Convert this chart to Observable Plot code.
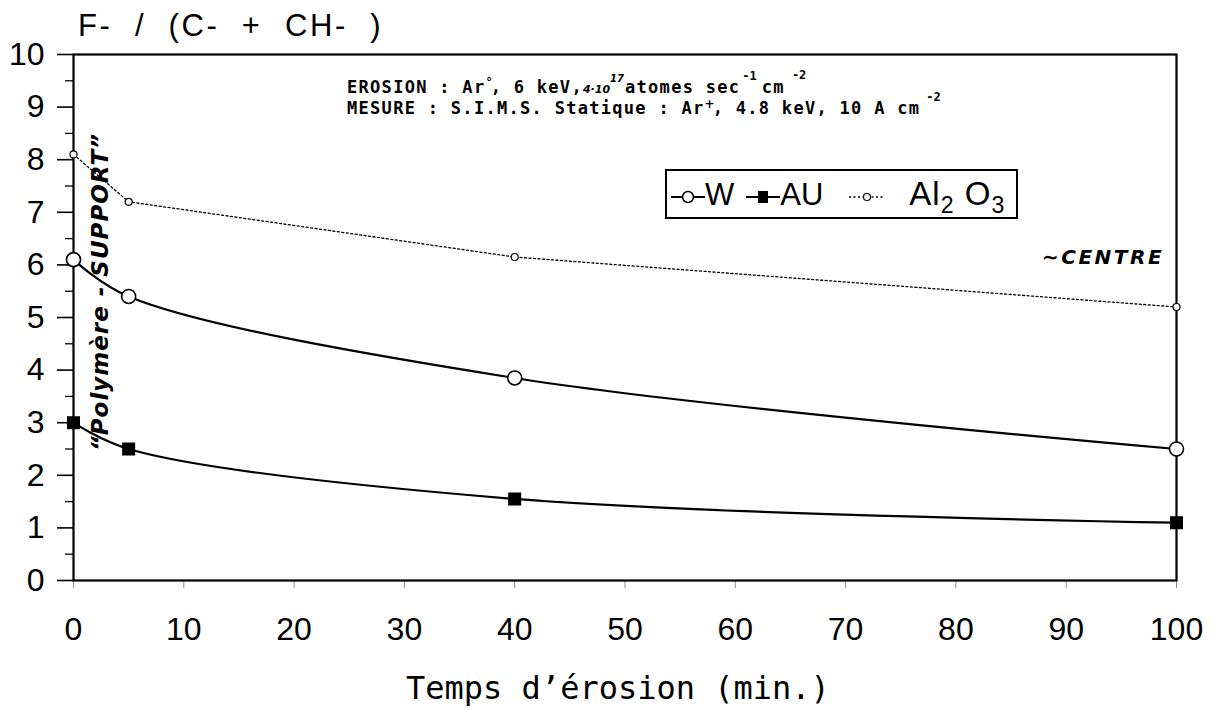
<!DOCTYPE html>
<html>
<head>
<meta charset="utf-8">
<script src="https://cdn.jsdelivr.net/npm/d3@7"></script>
<script src="https://cdn.jsdelivr.net/npm/@observablehq/plot@0.6"></script>
<style>
  html, body { margin: 0; padding: 0; background: #fff; }
  #wrap { position: relative; width: 1215px; height: 711px; overflow: hidden; background: #fff; }
  #wrap > svg { position: absolute; left: 0; top: 0; }
  .ov { position: absolute; white-space: pre; color: #000; }
  .mono { font-family: "DejaVu Sans Mono", "Liberation Mono", monospace; }
  .hand { font-family: "DejaVu Sans", sans-serif; font-style: italic; font-weight: bold; }
  .sup { position: relative; font-size: 12px; font-weight: bold; letter-spacing: 0; line-height: 10px; }
</style>
</head>
<body>
<div id="wrap"></div>
<script>
// ---- data ----
const times = [0, 5, 40, 100];
const seriesNames = ["W", "AU", "Al2O3"];
const valuesW = [6.1, 5.4, 3.85, 2.5];
const valuesAU = [3.0, 2.5, 1.55, 1.1];
const valuesAl2O3 = [8.1, 7.2, 6.15, 5.2];
const xTicks = [0, 10, 20, 30, 40, 50, 60, 70, 80, 90, 100];
const yTicks = [0, 1, 2, 3, 4, 5, 6, 7, 8, 9, 10];
const yMinorTicks = [0.5, 1.5, 2.5, 3.5, 4.5, 5.5, 6.5, 7.5, 8.5, 9.5];
const titleText = "F-  /  (C-  +  CH-  )";
const xLabel = "Temps d\u2019érosion (min.)";

const rows = [];
[valuesW, valuesAU, valuesAl2O3].forEach((vals, i) => {
  vals.forEach((v, j) => rows.push({series: seriesNames[i], t: times[j], v}));
});
const sel = s => rows.filter(d => d.series === s);

const plot = Plot.plot({
  width: 1215,
  height: 711,
  marginLeft: 73,
  marginRight: 39,
  marginTop: 54,
  marginBottom: 131,
  style: {fontFamily: "Liberation Sans, Arial, sans-serif", fontSize: "32px", color: "#000", background: "transparent", overflow: "visible"},
  x: {domain: [0, 100]},
  y: {domain: [0, 10]},
  marks: [
    Plot.axisY({ticks: yTicks, tickSize: 16, tickPadding: 13, label: null, fontSize: 32, strokeWidth: 1.6}),
    Plot.axisY({ticks: yMinorTicks, tickSize: 8, tickFormat: () => "", label: null, strokeWidth: 1.3}),
    Plot.axisX({ticks: xTicks, tickSize: 8, tickPadding: 29, label: null, fontSize: 32, strokeOpacity: 0.45}),
    Plot.frame({stroke: "#000", strokeWidth: 2.2}),
    Plot.line(sel("Al2O3"), {x: "t", y: "v", stroke: "#000", strokeWidth: 1.3, strokeDasharray: "2,2.5"}),
    Plot.line(sel("W"), {x: "t", y: "v", stroke: "#000", strokeWidth: 2.2, curve: "catmull-rom"}),
    Plot.line(sel("AU"), {x: "t", y: "v", stroke: "#000", strokeWidth: 2.2, curve: "catmull-rom"}),
    Plot.dot(sel("Al2O3"), {x: "t", y: "v", r: 3.5, stroke: "#000", fill: "#fff", strokeWidth: 1.2}),
    Plot.dot(sel("W"), {x: "t", y: "v", r: 7, stroke: "#000", fill: "#fff", strokeWidth: 1.6}),
    Plot.dot(sel("AU"), {x: "t", y: "v", symbol: "square", r: 6.5, fill: "#000", stroke: "#000"})
  ]
});
const wrap = document.getElementById("wrap");
wrap.appendChild(plot);

function ov(html, css, cls) {
  const d = document.createElement("div");
  d.className = "ov " + (cls || "");
  d.innerHTML = html;
  Object.assign(d.style, css);
  wrap.appendChild(d);
  return d;
}

// title
ov(titleText, {left: "78px", top: "8px", fontFamily: "Liberation Sans, Arial, sans-serif", fontSize: "31px", letterSpacing: "2.6px", lineHeight: "36px"});
// x label
ov(xLabel, {left: "406px", top: "670px", fontSize: "32px", lineHeight: "36px"}, "mono");

// experimental annotation
ov('EROSION : Ar<span class="sup" style="top:-7px;margin-right:-2px">°</span>, 6 keV,<span class="hand" style="font-size:11px;letter-spacing:0">4·10</span><span class="hand sup" style="font-size:10px;top:-11px;margin-right:1px">17</span>atomes sec<span class="sup" style="top:-13px;margin-right:5px;margin-left:2px">-1</span>cm<span class="sup" style="top:-14px;margin-left:7px">-2</span>',
   {left: "347px", top: "79px", fontSize: "17px", letterSpacing: "1.3px", fontWeight: "bold", lineHeight: "17px"}, "mono");
ov('MESURE : S.I.M.S. Statique : Ar<span class="hand sup" style="top:-6px;font-size:12px;margin-right:-2px">+</span>, 4.8 keV, 10 A cm<span class="sup" style="top:-13px;margin-left:6px">-2</span>',
   {left: "347px", top: "100px", fontSize: "17px", letterSpacing: "1.3px", fontWeight: "bold", lineHeight: "17px"}, "mono");

// legend
ov(
  '<svg width="34" height="20" style="vertical-align:middle"><line x1="0" y1="10" x2="34" y2="10" stroke="#000" stroke-width="2"/><circle cx="17" cy="10" r="5.5" fill="#fff" stroke="#000" stroke-width="1.5"/></svg>' +
  '<span>W</span>' +
  '<svg width="34" height="20" style="vertical-align:middle;margin-left:12px"><line x1="0" y1="10" x2="34" y2="10" stroke="#000" stroke-width="2"/><rect x="12" y="4" width="10" height="12" fill="#000"/></svg>' +
  '<span>AU</span>' +
  '<svg width="36" height="20" style="vertical-align:middle;margin-left:26px"><line x1="0" y1="10" x2="36" y2="10" stroke="#000" stroke-width="1.3" stroke-dasharray="2,2.5"/><circle cx="18" cy="10" r="3.5" fill="#fff" stroke="#000" stroke-width="1.2"/></svg>' +
  '<span style="margin-left:24px;font-size:33px;letter-spacing:1px">Al<sub style="font-size:0.7em">2</sub> O<sub style="font-size:0.7em">3</sub></span>',
  {left: "665px", top: "169px", width: "353px", height: "50px", border: "2px solid #000", background: "#fff",
   fontFamily: "Liberation Sans, Arial, sans-serif", fontSize: "31px", lineHeight: "46px", paddingLeft: "4px", boxSizing: "border-box"});

// handwritten notes
ov('\u201CPolymère - SUPPORT\u201D', {left: "100px", top: "292px", fontSize: "23px", letterSpacing: "1px", transform: "translate(-50%,-50%) rotate(-90deg)", lineHeight: "28px"}, "hand");
ov('\u223CCENTRE', {left: "1042px", top: "245px", fontSize: "20px", letterSpacing: "2.5px", lineHeight: "24px"}, "hand");
</script>
</body>
</html>
